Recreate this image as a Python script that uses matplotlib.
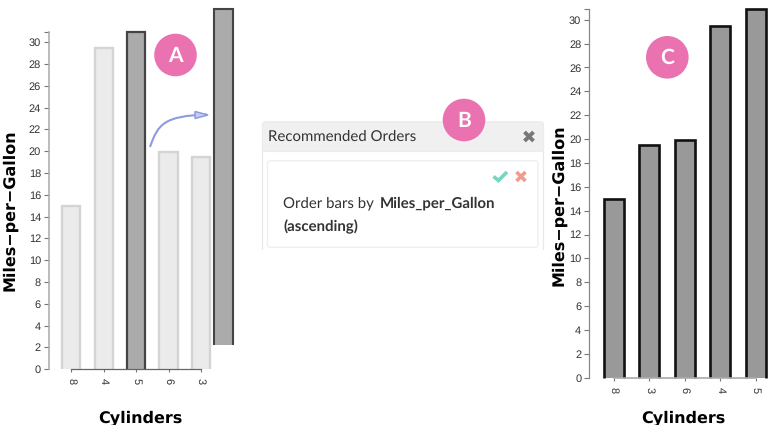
import matplotlib
matplotlib.use("Agg")
import matplotlib.pyplot as plt
from matplotlib.patches import Circle, Rectangle, PathPatch, FancyBboxPatch, Polygon
from matplotlib.path import Path

plt.rcParams["text.hinting"] = "none"
plt.rcParams["text.hinting_factor"] = 1

W, H = 773, 425

cats_a = ["8", "4", "5", "6", "3"]
vals_a = [15.0, 29.5, 30.9, 19.9, 19.5]
cats_c = ["8", "3", "6", "4", "5"]
vals_c = [15.0, 19.5, 19.9, 29.5, 30.9]
yticks = list(range(0, 31, 2))
moved_index = 2

fig = plt.figure(figsize=(W / 100, H / 100), dpi=100)
fig.patch.set_facecolor("white")


def make_axes(left, right, top, bottom):
    return fig.add_axes([left / W, 1 - bottom / H, (right - left) / W, (bottom - top) / H])


def style_axis(ax, cats, n_left, n_right, color, xcolor, label_size, lw, xlw):
    ax.set_xlim(n_left, n_right)
    ax.set_ylim(0, 30.9)
    ax.patch.set_alpha(0)
    ax.set_xticks(range(len(cats)))
    ax.set_xticklabels(cats, rotation=-90, fontsize=label_size, family="Liberation Sans", color="#333333")
    ax.set_yticks(yticks)
    ax.set_yticklabels([str(t) for t in yticks], fontsize=label_size, family="Liberation Sans", color="#333333")
    ax.set_yticks([30.9], minor=True)
    ax.tick_params(axis="y", which="both", length=3.6, width=0.8, color="#777777", pad=2.2)
    ax.tick_params(axis="x", length=2.4, width=0.8, color="#777777", pad=4.0)
    for s in ("top", "right"):
        ax.spines[s].set_visible(False)
    ax.spines["left"].set_color(color)
    ax.spines["left"].set_linewidth(lw)
    ax.spines["bottom"].set_color(xcolor)
    ax.spines["bottom"].set_linewidth(xlw)
    ax.spines["bottom"].set_zorder(6)
    ax.spines["bottom"].set_bounds(0, len(cats) - 1)


def open_bar(ax, x, v, w, face, edge, lw):
    """Bar with a stroke on its top and sides only."""
    ax.bar(x, v, width=w, facecolor=face, edgecolor="none", zorder=3, clip_on=False)
    ax.plot([x - w / 2, x - w / 2, x + w / 2, x + w / 2], [0, v, v, 0], color=edge, lw=lw,
            solid_joinstyle="miter", solid_capstyle="butt", clip_on=False, zorder=4)


# Panel A
step_a = 32.4
ax_a = make_axes(49, 212, 32.3, 369.3)
n_l = (49 - 71.3) / step_a
n_r = n_l + (212 - 49) / step_a
style_axis(ax_a, cats_a, n_l, n_r, "#aaaaaa", "#666666", 8.0, 1.1, 0.9)
bar_w = 0.565
for i, v in enumerate(vals_a):
    if i == moved_index:
        open_bar(ax_a, i, v, bar_w, "#ababab", "#444444", 1.6)
    else:
        open_bar(ax_a, i, v, bar_w, "#ebebeb", "#d4d4d4", 1.7)

# Dragged copy of the highlighted bar
ax_m = make_axes(205, 242, 9, 344.7)
ax_m.axis("off")
ax_m.set_xlim(-0.5, 0.5)
ax_m.set_ylim(0, vals_a[moved_index])
open_bar(ax_m, 0, vals_a[moved_index], 18.3 / 37, "#ababab", "#444444", 1.5)

# Panel C
step_c = 35.5
ax_c = make_axes(589.3, 772, 9, 377.7)
n_l = (589.3 - 613.7) / step_c
n_r = n_l + (772 - 589.3) / step_c
style_axis(ax_c, cats_c, n_l, n_r, "#888888", "#aaaaaa", 8.0, 0.9, 1.2)
for i, v in enumerate(vals_c):
    open_bar(ax_c, i, v, 0.56, "#999999", "#111111", 1.9)

# Overlay in pixel coordinates
ov = fig.add_axes([0, 0, 1, 1], zorder=10)
ov.set_xlim(0, W)
ov.set_ylim(H, 0)
ov.axis("off")
ov.patch.set_alpha(0)

title_kw = dict(family="DejaVu Sans", fontweight="bold", fontsize=11.3, color="black")
ov.text(140.7, 418, "Cylinders", ha="center", va="center", **title_kw)
ov.text(683.7, 418, "Cylinders", ha="center", va="center", **title_kw)
ov.text(10, 210, "Miles\u2212per\u2212Gallon", rotation=90, ha="center", va="center", **title_kw)
ov.text(559, 205, "Miles\u2212per\u2212Gallon", rotation=90, ha="center", va="center", **title_kw)

# Arrow
ov.add_patch(PathPatch(Path([(150, 147), (158, 124), (164, 116), (207, 114.5)],
                           [Path.MOVETO, Path.CURVE4, Path.CURVE4, Path.CURVE4]),
                       fill=False, edgecolor="#8c9be0", lw=1.5))
ov.add_patch(Polygon([(195, 111.5), (208, 115), (195, 118.5)], closed=True,
                     facecolor="#c4cdf0", edgecolor="#8c9be0", lw=1.1))

# Panel B
ov.add_patch(FancyBboxPatch((262.5, 122), 281, 140, boxstyle="round,pad=0,rounding_size=3",
                            facecolor="white", edgecolor="#e8e8e8", lw=0.8))
ov.add_patch(FancyBboxPatch((262.5, 122), 281, 29.5, boxstyle="round,pad=0,rounding_size=3",
                            facecolor="#f0f0f0", edgecolor="#ececec", lw=0.8))
ov.add_patch(Rectangle((255, 250), 296, 20, facecolor="white", edgecolor="none"))
ov.add_patch(FancyBboxPatch((267.5, 160.8), 270.5, 86.5, boxstyle="round,pad=0,rounding_size=3",
                            facecolor="white", edgecolor="#e9eeee", lw=0.9))
ov.text(267.5, 136.5, "Recommended Orders", family="Lato", fontsize=11.1, color="#333333", ha="left", va="center")
ov.text(283, 203.5, "Order bars by", family="Lato", fontsize=11.1, color="#333333", ha="left", va="center")
ov.text(379.5, 203.5, "Miles_per_Gallon", family="Lato", fontweight="bold", fontsize=11.1, color="#333333", ha="left", va="center")
ov.text(283, 227, "(ascending)", family="Lato", fontweight="bold", fontsize=11.1, color="#333333", ha="left", va="center")

# Icons
ov.plot([493.5, 498.5, 507], [176.5, 180.5, 172], color="#76d7bf", lw=2.6, solid_joinstyle="miter", solid_capstyle="butt")
ov.plot([516.5, 525.5], [172, 181], color="#f29a8e", lw=2.6, solid_capstyle="butt")
ov.plot([516.5, 525.5], [181, 172], color="#f29a8e", lw=2.6, solid_capstyle="butt")
ov.plot([524.5, 533.5], [132, 141], color="#777777", lw=2.8, solid_capstyle="butt")
ov.plot([524.5, 533.5], [141, 132], color="#777777", lw=2.8, solid_capstyle="butt")

# Badges
for (cx, cy, letter) in [(175.5, 55, "A"), (464, 120, "B"), (667.3, 57.3, "C")]:
    ov.add_patch(Circle((cx, cy), 21.3, facecolor="#ea72b0", edgecolor="none", zorder=5))
    ov.text(cx, cy + 0.5, letter, family="Lato", fontweight="bold", fontsize=15, color="white",
            ha="center", va="center", zorder=6)

fig.savefig("out.png", dpi=100)
